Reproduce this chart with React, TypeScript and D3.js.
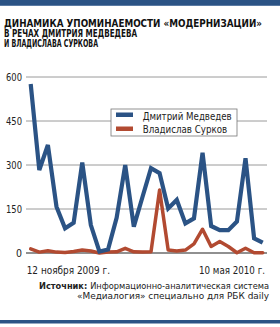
import React from "react";
import * as d3 from "d3";

const medvedev = [576, 283, 368, 158, 84, 103, 308, 95, 5, 12, 120, 300, 90, 190, 289, 272, 152, 181, 101, 118, 342, 92, 78, 78, 107, 323, 50, 35];
const surkov = [14, 3, 8, 3, 2, 5, 10, 7, 0, 3, 4, 16, 4, 3, 4, 215, 10, 7, 10, 31, 81, 22, 39, 22, 1, 16, 1, 1];
const yTicks = [0, 150, 300, 450, 600];
const xLabels = ["12 ноября 2009 г.", "10 мая 2010 г."];
const seriesNames = ["Дмитрий Медведев", "Владислав Сурков"];
const titleLines = [
  "ДИНАМИКА УПОМИНАЕМОСТИ «МОДЕРНИЗАЦИИ»",
  "В РЕЧАХ ДМИТРИЯ МЕДВЕДЕВА",
  "И ВЛАДИСЛАВА СУРКОВА",
];

const W = 280, H = 327;
const BLUE = "#2b5385";
const RED = "#b24a31";
const narrow = "'Liberation Sans Narrow', 'DejaVu Sans Condensed', Arial, sans-serif";

// widths measured on the reference, fonts here are wider than the original
const titleWidths = [258, 133, 94];
const legendWidths = [89, 84.5];

export default function App() {
  const x = d3.scaleLinear().domain([0, medvedev.length - 1]).range([30.7, 262.7]);
  const y = d3.scaleLinear().domain([0, 600]).range([253, 77]);
  const line = d3.line<number>().x((_, i) => x(i)).y(d => y(d));

  return (
    <>
      <style>{`body{margin:0;overflow:hidden}`}</style>
      <svg width={W} height={H} style={{ display: "block" }}>
        <rect x={0} y={0} width={W} height={H} fill="#fff" />
        <rect x={0} y={0} width={W} height={6} fill={BLUE} />
        <rect x={0} y={5} width={W} height={1} fill="#5a7aa3" />
        <rect x={0} y={320} width={W} height={3.5} fill={BLUE} />

        {titleLines.map((t, i) => (
          <text key={i} x={4} y={27.3 + i * 9.9} fontFamily={narrow} fontWeight={900} fontSize={9.6} fill="#111"
            textLength={titleWidths[i]} lengthAdjust="spacingAndGlyphs">{t}</text>
        ))}

        {yTicks.map(t => (
          <g key={t}>
            <line x1={26} x2={267} y1={y(t)} y2={y(t)} stroke={t === 0 ? "#222" : "#9a9a9a"} strokeWidth={t === 0 ? 1.2 : 1} />
            <text x={22} y={y(t) + 4} textAnchor="end" fontFamily={narrow} fontSize={11} fill="#222"
              textLength={t === 0 ? 6 : 16} lengthAdjust="spacingAndGlyphs">{t}</text>
          </g>
        ))}

        <path d={line(surkov) ?? ""} fill="none" stroke={RED} strokeWidth={3.5} strokeLinejoin="round" strokeLinecap="round" />
        <path d={line(medvedev) ?? ""} fill="none" stroke={BLUE} strokeWidth={4.2} strokeLinejoin="miter" strokeLinecap="butt" />

        <rect x={111} y={109} width={126} height={27} fill="#fff" stroke="#777" strokeWidth={0.8} />
        {seriesNames.map((n, i) => (
          <g key={n}>
            <rect x={116} y={112.5 + i * 14} width={17} height={4.5} fill={i === 0 ? BLUE : RED} />
            <text x={142.7} y={119.5 + i * 13.5} fontFamily={narrow} fontSize={10.5} fill="#222"
              textLength={legendWidths[i]} lengthAdjust="spacingAndGlyphs">{n}</text>
          </g>
        ))}

        <text x={26.7} y={274} fontFamily={narrow} fontSize={10} fill="#222" textLength={83.3} lengthAdjust="spacingAndGlyphs">{xLabels[0]}</text>
        <text x={199} y={274} fontFamily={narrow} fontSize={10} fill="#222" textLength={66} lengthAdjust="spacingAndGlyphs">{xLabels[1]}</text>

        <text x={39} y={289} fontFamily={narrow} fontSize={9.5} fill="#222" textLength={230} lengthAdjust="spacingAndGlyphs">
          <tspan fontWeight="bold">Источник: </tspan>Информационно-аналитическая система
        </text>
        <text x={77} y={299} fontFamily={narrow} fontSize={9.5} fill="#222" textLength={192} lengthAdjust="spacingAndGlyphs">«Медиалогия» специально для РБК daily</text>
      </svg>
    </>
  );
}
